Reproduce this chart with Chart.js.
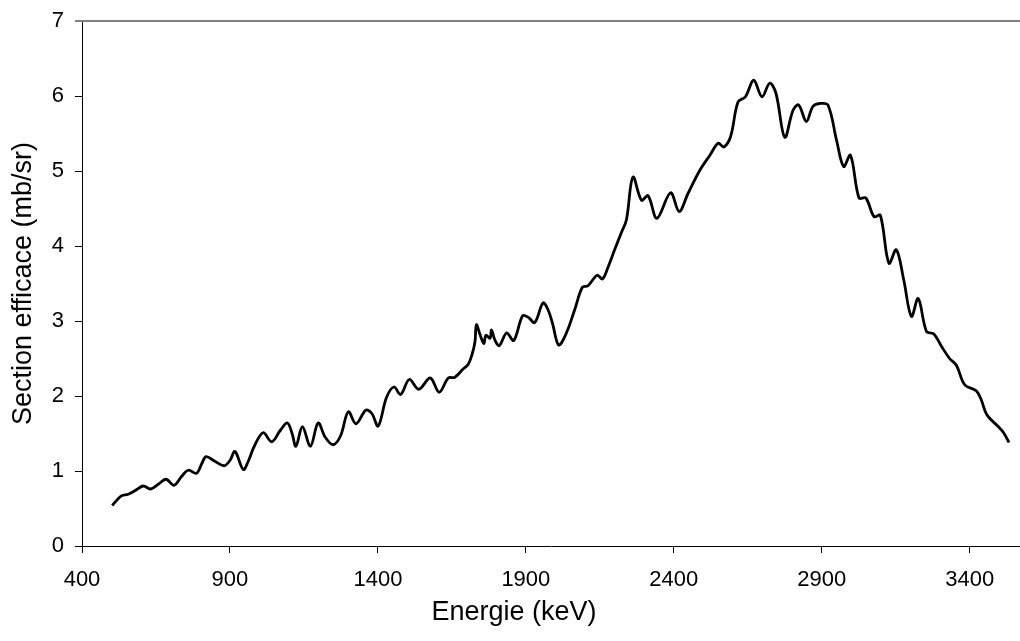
<!DOCTYPE html>
<html>
<head>
<meta charset="utf-8">
<script src="https://cdn.jsdelivr.net/npm/chart.js@4"></script>
<style>
  html, body { margin: 0; padding: 0; background: #fff; overflow: hidden; }
  #wrap { width: 1020px; height: 641px; }
</style>
</head>
<body>
<div id="wrap"><canvas id="chart" width="1020" height="641"></canvas></div>
<script>
// Energy (keV) and cross section (mb/sr)
var energies = [
  502, 520, 534, 556, 580, 607, 632, 660, 684, 711, 737, 759, 787, 805, 819,
  849, 880, 900, 917, 945, 963, 981, 1012, 1041, 1070, 1094, 1110, 1123, 1145,
  1172, 1198, 1222, 1249, 1274, 1300, 1326, 1359, 1379, 1401, 1429, 1454, 1477,
  1506, 1538, 1577, 1607, 1638, 1660, 1688, 1705, 1718, 1728, 1733, 1745, 1758,
  1765, 1779, 1784, 1795, 1810, 1835, 1859, 1889, 1908, 1930, 1958, 1975, 1990,
  2011, 2037, 2065, 2091, 2110, 2141, 2159, 2178, 2200, 2223, 2240, 2262, 2291,
  2313, 2343, 2389, 2418, 2448, 2488, 2522, 2550, 2569, 2592, 2617, 2642, 2670,
  2698, 2724, 2745, 2775, 2803, 2822, 2848, 2870, 2893, 2921, 2950, 2974, 2997,
  3026, 3049, 3077, 3098, 3127, 3152, 3177, 3203, 3226, 3254, 3278, 3305, 3332,
  3355, 3383, 3422, 3439, 3458, 3497, 3513, 3533
];
var sections = [
  0.54, 0.62, 0.67, 0.69, 0.74, 0.80, 0.76, 0.83, 0.89, 0.81, 0.93, 1.01, 0.97, 1.10, 1.19,
  1.13, 1.07, 1.14, 1.26, 1.02, 1.14, 1.32, 1.51, 1.39, 1.54, 1.64, 1.50, 1.33, 1.59,
  1.33, 1.64, 1.45, 1.35, 1.47, 1.79, 1.63, 1.81, 1.77, 1.60, 1.98, 2.12, 2.02,
  2.22, 2.09, 2.24, 2.05, 2.24, 2.25, 2.36, 2.42, 2.55, 2.72, 2.95, 2.82, 2.70,
  2.81, 2.77, 2.88, 2.75, 2.67, 2.84, 2.74, 3.07, 3.05, 2.98, 3.24, 3.15, 2.97,
  2.68, 2.84, 3.15, 3.45, 3.47, 3.61, 3.56, 3.72, 3.95, 4.18, 4.35, 4.92, 4.61,
  4.67, 4.37, 4.71, 4.46, 4.70, 5.01, 5.21, 5.37, 5.32, 5.46, 5.92, 5.99, 6.21,
  5.99, 6.17, 6.04, 5.45, 5.81, 5.88, 5.66, 5.86, 5.90, 5.88, 5.41, 5.06, 5.21,
  4.64, 4.64, 4.39, 4.41, 3.77, 3.95, 3.55, 3.06, 3.30, 2.86, 2.83, 2.66, 2.50,
  2.41, 2.15, 2.07, 1.95, 1.75, 1.59, 1.52, 1.38
];
var xTicks = [400, 900, 1400, 1900, 2400, 2900, 3400];
var xMin = 400, xMax = 3570;
var yMin = 0, yMax = 7;
var xTitle = "Energie (keV)";
var yTitle = "Section efficace (mb/sr)";

var font = "'Liberation Sans', Arial, sans-serif";

// grey frame line on top of the plot, plus the x title (sits left of centre)
var frame = {
  id: "frame",
  afterDraw: function (chart) {
    var a = chart.chartArea, ctx = chart.ctx;
    ctx.save();
    ctx.strokeStyle = "#808080";
    ctx.lineWidth = 2;
    ctx.beginPath();
    ctx.moveTo(a.left - 7, a.top);
    ctx.lineTo(a.right, a.top);
    ctx.stroke();

    ctx.fillStyle = "#000";
    ctx.font = "27px " + font;
    ctx.textAlign = "center";
    ctx.textBaseline = "middle";
    ctx.fillText(xTitle, a.left + 432, a.bottom + 67);
    ctx.restore();
  },
};

new Chart(document.getElementById("chart"), {
  type: "line",
  data: {
    datasets: [{
      data: energies.map(function (e, i) { return { x: e, y: sections[i] }; }),
      borderColor: "#000",
      borderWidth: 2.8,
      pointRadius: 0,
      tension: 0.35,
      fill: false,
    }],
  },
  options: {
    responsive: false,
    animation: false,
    layout: { padding: { top: 21, right: 0, left: 0, bottom: 0 } },
    plugins: { legend: { display: false }, tooltip: { enabled: false } },
    scales: {
      x: {
        type: "linear",
        min: xMin,
        max: xMax,
        afterBuildTicks: function (axis) {
          axis.ticks = xTicks.map(function (v) { return { value: v }; });
        },
        afterFit: function (axis) {
          axis.height = 95;
          axis.paddingLeft = 0;
          axis.paddingRight = 0;
        },
        grid: { drawOnChartArea: false, tickLength: 7, color: "#000" },
        border: { color: "#000", width: 1 },
        ticks: {
          color: "#000", font: { family: font, size: 22 }, padding: 14, maxRotation: 0,
          callback: function (v) { return String(v); },
        },
        title: { display: false },
      },
      y: {
        min: yMin,
        max: yMax,
        ticks: { stepSize: 1, color: "#000", font: { family: font, size: 22 }, padding: 11 },
        afterFit: function (axis) {
          axis.width = 82;
          axis.paddingTop = 0;
          axis.paddingBottom = 0;
        },
        grid: { drawOnChartArea: false, tickLength: 7, color: "#000" },
        border: { color: "#000", width: 1 },
        title: {
          display: true, text: yTitle, color: "#000",
          font: { family: font, size: 27 }, padding: { top: 7, bottom: 0 },
        },
      },
    },
  },
  plugins: [frame],
});
</script>
</body>
</html>
